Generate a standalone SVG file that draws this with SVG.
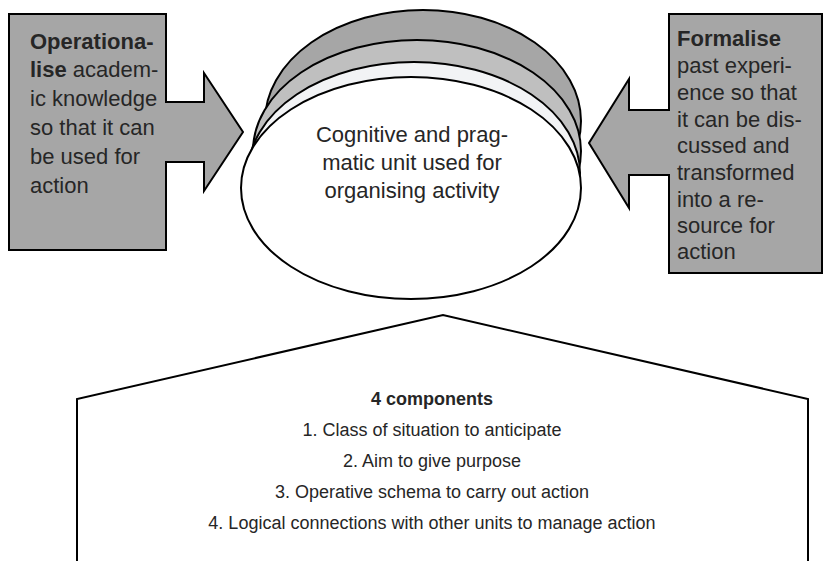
<svg xmlns="http://www.w3.org/2000/svg" width="824" height="561" viewBox="0 0 824 561">
<style>
.sh{stroke:#000;stroke-width:2;stroke-linejoin:miter}
.t{font-family:"Liberation Sans",Arial,sans-serif;font-size:22px;fill:#262626}
.b{font-weight:bold}
.c{text-anchor:middle}
.s{font-size:18px}
</style>
<rect width="824" height="561" fill="#fff"/>
<g id="unit">
<ellipse class="sh" cx="423" cy="121" rx="158" ry="111" fill="#a6a6a6"/>
<ellipse class="sh" cx="417" cy="151" rx="164" ry="111" fill="#bfbfbf"/>
<ellipse class="sh" cx="414" cy="173" rx="166" ry="111" fill="#f2f3f5"/>
<ellipse class="sh" cx="411" cy="188" rx="170" ry="111" fill="#fff"/>
<text class="t c" x="412" y="142">Cognitive and prag-</text>
<text class="t c" x="412" y="170">matic unit used for</text>
<text class="t c" x="412" y="198">organising activity</text>
</g>
<g id="operationalise">
<path class="sh" fill="#a6a6a6" d="M9,14 H166 V102 H204 V73 L243,132 L204,191 V162 H166 V250 H9 Z"/>
<text class="t" x="30" y="49"><tspan class="b">Operationa-</tspan></text>
<text class="t" x="30" y="77"><tspan class="b">lise</tspan> academ-</text>
<text class="t" x="30" y="106">ic knowledge</text>
<text class="t" x="30" y="135">so that it can</text>
<text class="t" x="30" y="164">be used for</text>
<text class="t" x="30" y="193">action</text>
</g>
<g id="formalise">
<path class="sh" fill="#a6a6a6" d="M822,14 H669 V110 H629 V79 L589,143 L629,208 V175 H669 V273 H822 Z"/>
<text class="t" x="677" y="46"><tspan class="b">Formalise</tspan></text>
<text class="t" x="677" y="73">past experi-</text>
<text class="t" x="677" y="100">ence so that</text>
<text class="t" x="677" y="127">it can be dis-</text>
<text class="t" x="677" y="153">cussed and</text>
<text class="t" x="677" y="180">transformed</text>
<text class="t" x="677" y="207">into a re-</text>
<text class="t" x="677" y="233">source for</text>
<text class="t" x="677" y="259">action</text>
</g>
<g id="components">
<path class="sh" fill="#fff" d="M77,566 V399 L443,315 L808,399 V566"/>
<text class="t s c b" x="432" y="405">4 components</text>
<text class="t s c" x="432" y="436">1. Class of situation to anticipate</text>
<text class="t s c" x="432" y="467">2. Aim to give purpose</text>
<text class="t s c" x="432" y="498">3. Operative schema to carry out action</text>
<text class="t s c" x="432" y="529">4. Logical connections with other units to manage action</text>
</g>
<g id="connectors"/>
</svg>
